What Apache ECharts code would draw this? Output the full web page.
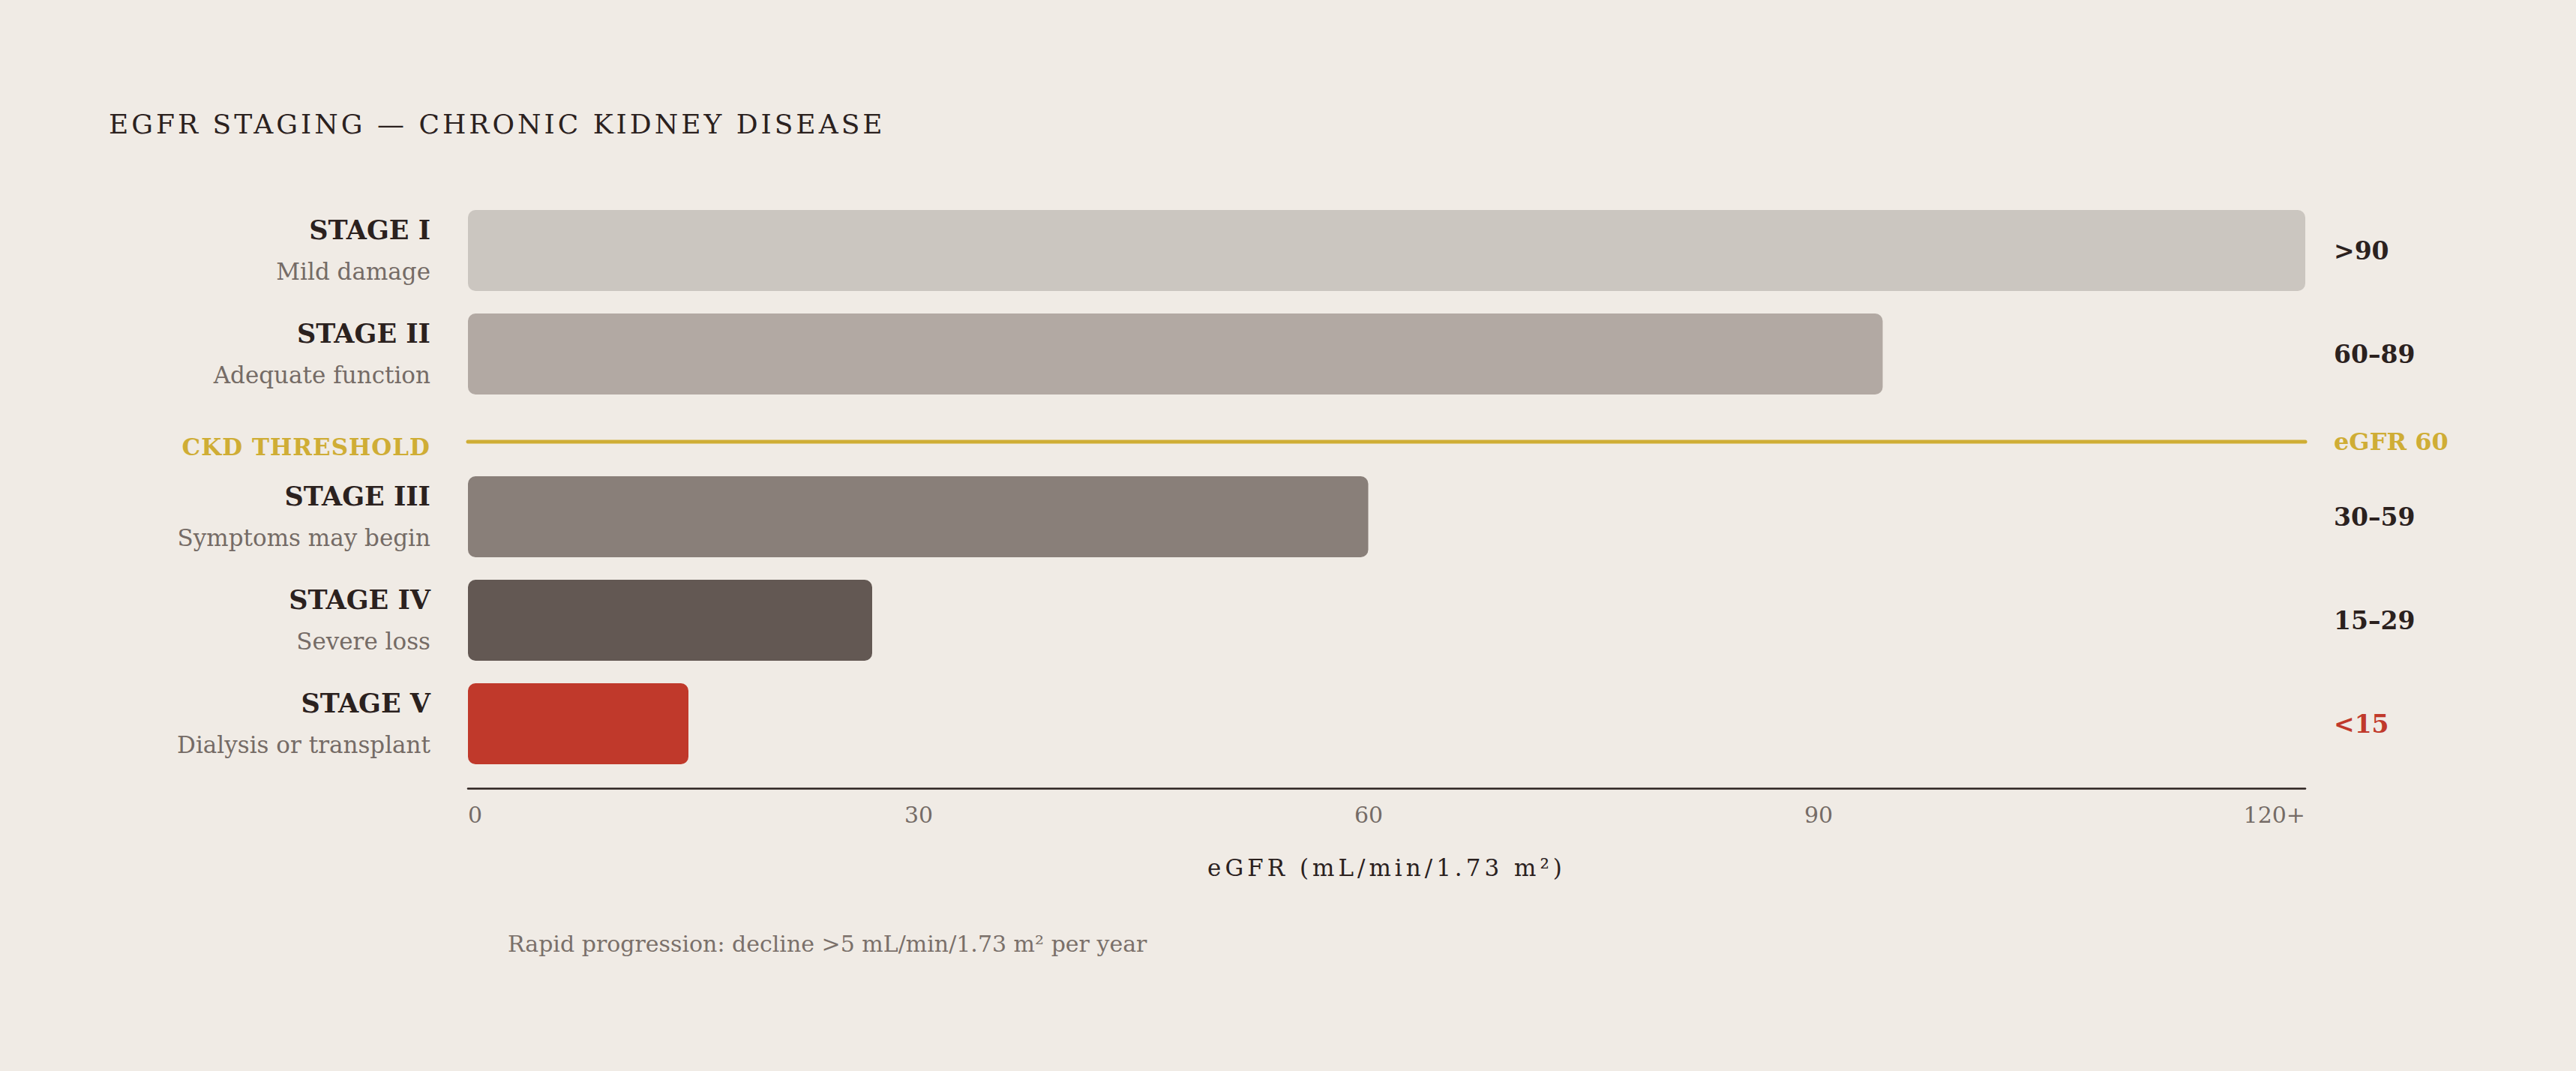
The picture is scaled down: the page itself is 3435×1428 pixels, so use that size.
<!DOCTYPE html>
<html>
<head>
<meta charset="utf-8">
<script src="https://cdn.jsdelivr.net/npm/echarts@6/dist/echarts.min.js"></script>
<style>
  html, body { margin: 0; padding: 0; background: #f0ebe5; }
  #main { width: 3435px; height: 1428px; }
</style>
</head>
<body>
<div id="main"></div>
<script>
// stages above the CKD threshold go in the top block, the rest below it
const stageNames = ['STAGE I', 'STAGE II', 'STAGE III', 'STAGE IV', 'STAGE V'];
const stageNotes = ['Mild damage', 'Adequate function', 'Symptoms may begin', 'Severe loss', 'Dialysis or transplant'];
const stageRanges = ['>90', '60–89', '30–59', '15–29', '<15'];
const barValues = [120, 92.4, 58.8, 26.4, 14.4];
const aboveThreshold = 2;
const thresholdValue = 60;
const thresholdSpan = [0, 120];

const TITLE = 'EGFR STAGING — CHRONIC KIDNEY DISEASE';
const AXIS_NAME = 'eGFR (mL/min/1.73 m²)';
const THRESHOLD_NAME = 'CKD THRESHOLD';
const NOTE = 'Rapid progression: decline >5 mL/min/1.73 m² per year';

const barColors = ['#cbc6c0', '#b2a9a3', '#897f79', '#635853', '#c0392b'];
const FONT = 'DejaVu Serif';
const DARK = '#2b211e';
const GREY = '#756b66';
const GOLD = '#cfad35';
const RED = '#c0392b';

// tracking for the spaced-out caps texts (svg letter-spacing)
const tracking = {};
tracking[TITLE] = 4;
tracking[AXIS_NAME] = 5;
tracking[THRESHOLD_NAME] = 1;

const chart = echarts.init(document.getElementById('main'), null, { renderer: 'svg' });

const stageLabel = {
  show: true,
  margin: 50,
  fontFamily: FONT,
  formatter: function (v) {
    const i = stageNames.indexOf(v);
    return '{name|' + v + '}\n{note|' + stageNotes[i] + '}';
  },
  rich: {
    name: { fontFamily: FONT, fontSize: 35, fontWeight: 'bold', color: DARK, lineHeight: 55, align: 'right' },
    note: { fontFamily: FONT, fontSize: 31, color: GREY, lineHeight: 55, align: 'right' }
  }
};

const rangeLabel = {
  show: true,
  margin: 38,
  fontFamily: FONT,
  fontSize: 33,
  fontWeight: 'bold',
  color: function (v) { return v === stageRanges[4] ? RED : DARK; }
};

function catAxis(grid, data, pos, label) {
  return {
    type: 'category', gridIndex: grid, data: data, position: pos, inverse: true,
    axisLine: { show: false }, axisTick: { show: false }, splitLine: { show: false },
    axisLabel: label
  };
}

function valAxis(grid, show) {
  return {
    type: 'value', gridIndex: grid, min: 0, max: 120, interval: 30, show: show,
    splitLine: { show: false }, axisTick: { show: false }
  };
}

const topNames = stageNames.slice(0, aboveThreshold);
const botNames = stageNames.slice(aboveThreshold);

const bottomX = valAxis(2, true);
bottomX.offset = 17;
bottomX.axisLine = { show: true, lineStyle: { color: DARK, width: 2.5 } };
bottomX.axisLabel = {
  margin: 20,
  fontFamily: FONT,
  fontSize: 30,
  color: GREY,
  alignMinLabel: 'left',
  alignMaxLabel: 'right',
  formatter: function (v) {
    if (v === 120) return '120+';
    if (v === 0) return '0';
    return '{t' + v + '|' + v + '}';
  },
  rich: {
    t30: { fontFamily: FONT, fontSize: 30, color: GREY, padding: [0, 23, 0, 0] },
    t60: { fontFamily: FONT, fontSize: 30, color: GREY, padding: [0, 48, 0, 0] },
    t90: { fontFamily: FONT, fontSize: 30, color: GREY, padding: [0, 73, 0, 0] }
  }
};
bottomX.name = AXIS_NAME;
bottomX.nameLocation = 'middle';
bottomX.nameGap = 90;
bottomX.nameTextStyle = { fontFamily: FONT, fontSize: 31, color: DARK };

const option = {
  backgroundColor: '#f0ebe5',
  animation: false,
  title: [
    {
      text: TITLE,
      left: 140, top: 142,
      textStyle: { fontFamily: FONT, fontSize: 36, fontWeight: 'normal', color: DARK }
    },
    {
      text: NOTE,
      left: 672, top: 1238,
      textStyle: { fontFamily: FONT, fontSize: 30, fontWeight: 'normal', color: '#7a706a' }
    }
  ],
  grid: [
    { left: 624, right: 361, top: 265, height: 276 },
    { left: 624, right: 361, top: 569, height: 40 },
    { left: 624, right: 361, top: 620, height: 414 }
  ],
  xAxis: [valAxis(0, false), valAxis(1, false), bottomX],
  yAxis: [
    catAxis(0, topNames, 'left', stageLabel),
    catAxis(0, stageRanges.slice(0, aboveThreshold), 'right', rangeLabel),
    catAxis(1, [THRESHOLD_NAME], 'left', {
      margin: 50,
      formatter: function (v) { return '{t|' + v + '}'; },
      rich: {
        t: { fontFamily: FONT, fontSize: 31, fontWeight: 'bold', color: GOLD, padding: [14, 0, 0, 0] }
      }
    }),
    catAxis(1, ['eGFR ' + thresholdValue], 'right', {
      margin: 38, fontFamily: FONT, fontSize: 32, fontWeight: 'bold', color: GOLD
    }),
    catAxis(2, botNames, 'left', stageLabel),
    catAxis(2, stageRanges.slice(aboveThreshold), 'right', rangeLabel)
  ],
  series: [
    {
      type: 'bar', xAxisIndex: 0, yAxisIndex: 0, barWidth: 108, silent: true,
      itemStyle: { borderRadius: 10 },
      data: barValues.slice(0, aboveThreshold).map(function (v, i) {
        return { value: v, itemStyle: { color: barColors[i] } };
      })
    },
    {
      type: 'line', xAxisIndex: 1, yAxisIndex: 2, symbol: 'none', silent: true,
      lineStyle: { color: GOLD, width: 5, cap: 'round' },
      data: thresholdSpan.map(function (x) { return [x, THRESHOLD_NAME]; })
    },
    {
      type: 'bar', xAxisIndex: 2, yAxisIndex: 4, barWidth: 108, silent: true,
      itemStyle: { borderRadius: 10 },
      data: barValues.slice(aboveThreshold).map(function (v, i) {
        return { value: v, itemStyle: { color: barColors[i + aboveThreshold] } };
      })
    }
  ]
};

function applyTracking() {
  document.querySelectorAll('#main svg text').forEach(function (t) {
    const s = tracking[t.textContent];
    if (s) t.setAttribute('letter-spacing', s + 'px');
  });
}

option && chart.setOption(option);
chart.on('finished', applyTracking);
applyTracking();
</script>
</body>
</html>
